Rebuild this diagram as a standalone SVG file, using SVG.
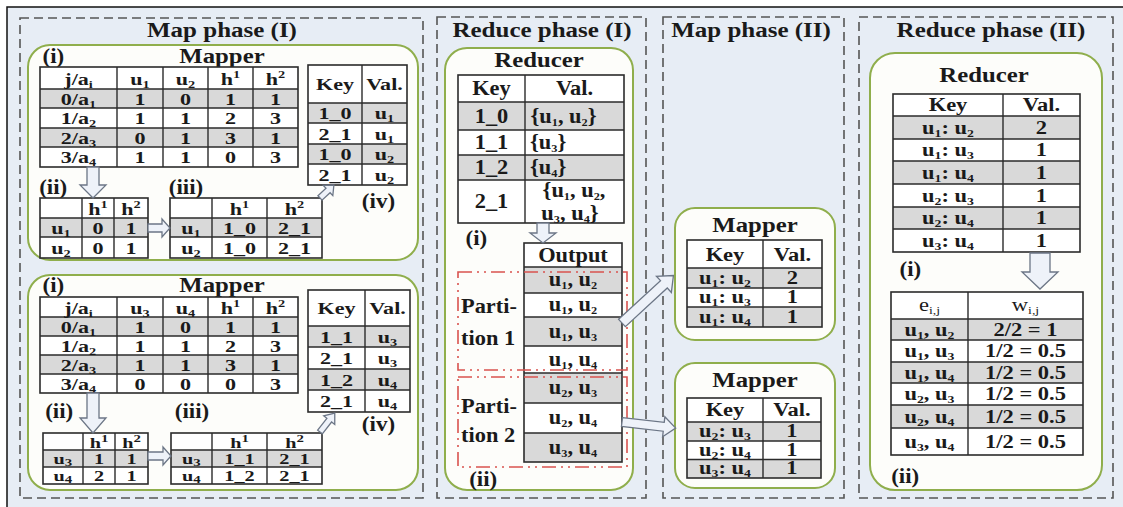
<svg xmlns="http://www.w3.org/2000/svg" width="1123" height="507" viewBox="0 0 1123 507">
<style>
text { font-family: "Liberation Serif", "Times New Roman", serif; font-weight: bold; fill: #1a1a1a; transform-box: fill-box; transform-origin: center; }
.ti { font-size: 20px; text-anchor: middle; transform: scaleX(1.25); }
.hd { font-size: 21px; text-anchor: middle; transform: scaleX(1.18); }
.c { font-size: 17px; text-anchor: middle; transform: scaleX(1.3); }
.c2 { font-size: 15px; text-anchor: middle; transform: scaleX(1.35); }
.cm { font-size: 18px; text-anchor: middle; transform: scaleX(1.25); }
.cb { font-size: 20px; text-anchor: middle; transform: scaleX(1.12); }
.l { font-size: 20px; text-anchor: start; transform: scaleX(1.15); }
.lb { font-size: 20px; text-anchor: start; transform: scaleX(1.12); }
.s { font-size: 11px; }
.n { font-weight: normal; }
.phase { fill: none; stroke: #555; stroke-width: 1.6; stroke-dasharray: 9 5; }
.node { fill: #fdfdfa; stroke: #8fae4c; stroke-width: 2; }
.tbf { fill: #fff; }
.tbo { fill: none; stroke: #2b2b2b; stroke-width: 1.6; }
.g { fill: #d9d9d9; }
.ln { fill: none; stroke: #2b2b2b; stroke-width: 1.4; }
.arr { fill: #eef2f9; stroke: #6c7686; stroke-width: 1.3; }
.part { fill: none; stroke: #d9534f; stroke-width: 1.6; stroke-dasharray: 14 5 2 5 2 5; }
</style>
<rect x="0" y="0" width="1123" height="507" fill="#fff"/>
<rect x="7" y="7" width="1116" height="500" fill="#e7edf5"/>
<path d="M7,507 V7 H1123" fill="none" stroke="#111" stroke-width="1.5"/>

<!-- phases -->
<g id="phase-map1">
<rect class="phase" x="20" y="18" width="403" height="480"/>
<text class="ti" x="222" y="37">Map phase (I)</text>
</g>
<g id="phase-reduce1">
<rect class="phase" x="437" y="17" width="209" height="481"/>
<text class="ti" x="542" y="37">Reduce phase (I)</text>
</g>
<g id="phase-map2">
<rect class="phase" x="663" y="17" width="181" height="481"/>
<text class="ti" x="751" y="37">Map phase (II)</text>
</g>
<g id="phase-reduce2">
<rect class="phase" x="859" y="17" width="254" height="481"/>
<text class="ti" x="991" y="37">Reduce phase (II)</text>
</g>

<!-- Map phase I, top mapper -->
<g id="mapper-1a">
<rect class="node" x="28" y="45" width="390" height="215" rx="22"/>
<text class="l" x="44" y="63">(i)</text>
<text class="hd" x="222" y="63">Mapper</text>
<rect class="tbf" x="40" y="67" width="258" height="100"/>
<rect class="g" x="40" y="89" width="258" height="19"/>
<rect class="g" x="40" y="128" width="258" height="19"/>
<path class="ln" d="M40,89 H298 M40,108 H298 M40,128 H298 M40,147 H298 M117,67 V167 M163,67 V167 M208,67 V167 M253,67 V167"/>
<rect class="tbo" x="40" y="67" width="258" height="100"/>
<text class="c" x="78.5" y="85">j/a<tspan class="s" dy="3">i</tspan></text>
<text class="c" x="140" y="85">u<tspan class="s" dy="3">1</tspan></text>
<text class="c" x="185.5" y="85">u<tspan class="s" dy="3">2</tspan></text>
<text class="c" x="230.5" y="85">h<tspan class="s" dy="-7">1</tspan></text>
<text class="c" x="275.5" y="85">h<tspan class="s" dy="-7">2</tspan></text>
<text class="c" x="78.5" y="105">0/a<tspan class="s" dy="3">1</tspan></text>
<text class="c" x="140" y="105">1</text><text class="c" x="185.5" y="105">0</text><text class="c" x="230.5" y="105">1</text><text class="c" x="275.5" y="105">1</text>
<text class="c" x="78.5" y="124.5">1/a<tspan class="s" dy="3">2</tspan></text>
<text class="c" x="140" y="124.5">1</text><text class="c" x="185.5" y="124.5">1</text><text class="c" x="230.5" y="124.5">2</text><text class="c" x="275.5" y="124.5">3</text>
<text class="c" x="78.5" y="144">2/a<tspan class="s" dy="3">3</tspan></text>
<text class="c" x="140" y="144">0</text><text class="c" x="185.5" y="144">1</text><text class="c" x="230.5" y="144">3</text><text class="c" x="275.5" y="144">1</text>
<text class="c" x="78.5" y="163.5">3/a<tspan class="s" dy="3">4</tspan></text>
<text class="c" x="140" y="163.5">1</text><text class="c" x="185.5" y="163.5">1</text><text class="c" x="230.5" y="163.5">0</text><text class="c" x="275.5" y="163.5">3</text>

<rect class="tbf" x="308" y="65" width="99" height="120"/>
<rect class="g" x="308" y="103" width="99" height="20"/>
<rect class="g" x="308" y="144" width="99" height="20"/>
<path class="ln" d="M308,103 H407 M308,123 H407 M308,144 H407 M308,164 H407 M362,65 V185"/>
<rect class="tbo" x="308" y="65" width="99" height="120"/>
<text class="c" x="335" y="90">Key</text><text class="c" x="384.5" y="90">Val.</text>
<text class="c" x="335" y="119.5">1_0</text><text class="c" x="384.5" y="119.5">u<tspan class="s" dy="3">1</tspan></text>
<text class="c" x="335" y="140">2_1</text><text class="c" x="384.5" y="140">u<tspan class="s" dy="3">1</tspan></text>
<text class="c" x="335" y="160.5">1_0</text><text class="c" x="384.5" y="160.5">u<tspan class="s" dy="3">2</tspan></text>
<text class="c" x="335" y="181">2_1</text><text class="c" x="384.5" y="181">u<tspan class="s" dy="3">2</tspan></text>

<text class="l" x="41" y="194">(ii)</text>
<rect class="tbf" x="40" y="198" width="108" height="60"/>
<rect class="g" x="40" y="218" width="108" height="19"/>
<path class="ln" d="M40,218 H148 M40,237 H148 M82,198 V258 M114,198 V258"/>
<rect class="tbo" x="40" y="198" width="108" height="60"/>
<text class="c" x="98" y="215">h<tspan class="s" dy="-7">1</tspan></text>
<text class="c" x="131" y="215">h<tspan class="s" dy="-7">2</tspan></text>
<text class="c" x="61" y="234">u<tspan class="s" dy="3">1</tspan></text><text class="c" x="98" y="234">0</text><text class="c" x="131" y="234">1</text>
<text class="c" x="61" y="254">u<tspan class="s" dy="3">2</tspan></text><text class="c" x="98" y="254">0</text><text class="c" x="131" y="254">1</text>

<text class="l" x="171" y="194">(iii)</text>
<rect class="tbf" x="170" y="198" width="152" height="60"/>
<rect class="g" x="170" y="218" width="152" height="19"/>
<path class="ln" d="M170,218 H322 M170,237 H322 M212,198 V258 M267,198 V258"/>
<rect class="tbo" x="170" y="198" width="152" height="60"/>
<text class="c" x="239.5" y="215">h<tspan class="s" dy="-7">1</tspan></text>
<text class="c" x="294.5" y="215">h<tspan class="s" dy="-7">2</tspan></text>
<text class="c" x="191" y="234">u<tspan class="s" dy="3">1</tspan></text><text class="c" x="239.5" y="234">1_0</text><text class="c" x="294.5" y="234">2_1</text>
<text class="c" x="191" y="254">u<tspan class="s" dy="3">2</tspan></text><text class="c" x="239.5" y="254">1_0</text><text class="c" x="294.5" y="254">2_1</text>
<text class="l" x="364" y="208">(iv)</text>
</g>

<!-- Map phase I, bottom mapper -->
<g id="mapper-1b">
<rect class="node" x="28" y="275" width="390" height="215" rx="22"/>
<text class="l" x="44" y="292">(i)</text>
<text class="hd" x="222" y="292">Mapper</text>
<rect class="tbf" x="40" y="297" width="258" height="96"/>
<rect class="g" x="40" y="317" width="258" height="19"/>
<rect class="g" x="40" y="355" width="258" height="19"/>
<path class="ln" d="M40,317 H298 M40,336 H298 M40,355 H298 M40,374 H298 M117,297 V393 M163,297 V393 M208,297 V393 M253,297 V393"/>
<rect class="tbo" x="40" y="297" width="258" height="96"/>
<text class="c" x="78.5" y="314">j/a<tspan class="s" dy="3">i</tspan></text>
<text class="c" x="140" y="314">u<tspan class="s" dy="3">3</tspan></text>
<text class="c" x="185.5" y="314">u<tspan class="s" dy="3">4</tspan></text>
<text class="c" x="230.5" y="314">h<tspan class="s" dy="-7">1</tspan></text>
<text class="c" x="275.5" y="314">h<tspan class="s" dy="-7">2</tspan></text>
<text class="c" x="78.5" y="333">0/a<tspan class="s" dy="3">1</tspan></text>
<text class="c" x="140" y="333">1</text><text class="c" x="185.5" y="333">0</text><text class="c" x="230.5" y="333">1</text><text class="c" x="275.5" y="333">1</text>
<text class="c" x="78.5" y="352">1/a<tspan class="s" dy="3">2</tspan></text>
<text class="c" x="140" y="352">1</text><text class="c" x="185.5" y="352">1</text><text class="c" x="230.5" y="352">2</text><text class="c" x="275.5" y="352">3</text>
<text class="c" x="78.5" y="371">2/a<tspan class="s" dy="3">3</tspan></text>
<text class="c" x="140" y="371">1</text><text class="c" x="185.5" y="371">1</text><text class="c" x="230.5" y="371">3</text><text class="c" x="275.5" y="371">1</text>
<text class="c" x="78.5" y="390">3/a<tspan class="s" dy="3">4</tspan></text>
<text class="c" x="140" y="390">0</text><text class="c" x="185.5" y="390">0</text><text class="c" x="230.5" y="390">0</text><text class="c" x="275.5" y="390">3</text>

<rect class="tbf" x="308" y="290" width="102" height="122"/>
<rect class="g" x="308" y="326" width="102" height="21"/>
<rect class="g" x="308" y="369" width="102" height="21"/>
<path class="ln" d="M308,326 H410 M308,347 H410 M308,369 H410 M308,390 H410 M365,290 V412"/>
<rect class="tbo" x="308" y="290" width="102" height="122"/>
<text class="c" x="336.5" y="314">Key</text><text class="c" x="387.5" y="314">Val.</text>
<text class="c" x="336.5" y="343">1_1</text><text class="c" x="387.5" y="343">u<tspan class="s" dy="3">3</tspan></text>
<text class="c" x="336.5" y="364.5">2_1</text><text class="c" x="387.5" y="364.5">u<tspan class="s" dy="3">3</tspan></text>
<text class="c" x="336.5" y="386">1_2</text><text class="c" x="387.5" y="386">u<tspan class="s" dy="3">4</tspan></text>
<text class="c" x="336.5" y="407">2_1</text><text class="c" x="387.5" y="407">u<tspan class="s" dy="3">4</tspan></text>

<text class="l" x="47" y="418">(ii)</text>
<rect class="tbf" x="43" y="433" width="105" height="51"/>
<rect class="g" x="43" y="450" width="105" height="17"/>
<path class="ln" d="M43,450 H148 M43,467 H148 M83,433 V484 M115,433 V484"/>
<rect class="tbo" x="43" y="433" width="105" height="51"/>
<text class="c2" x="99" y="448">h<tspan class="s" dy="-6">1</tspan></text>
<text class="c2" x="131.5" y="448">h<tspan class="s" dy="-6">2</tspan></text>
<text class="c2" x="63" y="464.5">u<tspan class="s" dy="2">3</tspan></text><text class="c2" x="99" y="464.5">1</text><text class="c2" x="131.5" y="464.5">1</text>
<text class="c2" x="63" y="481.5">u<tspan class="s" dy="2">4</tspan></text><text class="c2" x="99" y="481.5">2</text><text class="c2" x="131.5" y="481.5">1</text>

<text class="l" x="177" y="418">(iii)</text>
<rect class="tbf" x="171" y="433" width="151" height="51"/>
<rect class="g" x="171" y="450" width="151" height="17"/>
<path class="ln" d="M171,450 H322 M171,467 H322 M212,433 V484 M267,433 V484"/>
<rect class="tbo" x="171" y="433" width="151" height="51"/>
<text class="c2" x="239.5" y="448">h<tspan class="s" dy="-6">1</tspan></text>
<text class="c2" x="294.5" y="448">h<tspan class="s" dy="-6">2</tspan></text>
<text class="c2" x="191.5" y="464.5">u<tspan class="s" dy="2">3</tspan></text><text class="c2" x="239.5" y="464.5">1_1</text><text class="c2" x="294.5" y="464.5">2_1</text>
<text class="c2" x="191.5" y="481.5">u<tspan class="s" dy="2">4</tspan></text><text class="c2" x="239.5" y="481.5">1_2</text><text class="c2" x="294.5" y="481.5">2_1</text>
<text class="l" x="364" y="431">(iv)</text>
</g>

<!-- Reduce phase I -->
<g id="reducer-1">
<rect class="node" x="445" y="48" width="188" height="442" rx="22"/>
<text class="hd" x="539" y="67">Reducer</text>
<rect class="tbf" x="458" y="75" width="166" height="148"/>
<rect class="g" x="458" y="102" width="166" height="28"/>
<rect class="g" x="458" y="155" width="166" height="25"/>
<path class="ln" d="M458,102 H624 M458,130 H624 M458,155 H624 M458,180 H624 M525,75 V223"/>
<rect class="tbo" x="458" y="75" width="166" height="148"/>
<text class="cb" x="491.5" y="95.5">Key</text><text class="cb" x="574.5" y="95.5">Val.</text>
<text class="cb" x="491.5" y="123">1_0</text><text class="lb" x="534" y="123">{u<tspan class="s" dy="3">1</tspan><tspan dy="-3">, u</tspan><tspan class="s" dy="3">2</tspan><tspan dy="-3">}</tspan></text>
<text class="cb" x="491.5" y="149.5">1_1</text><text class="lb" x="532" y="149.5">{u<tspan class="s" dy="3">3</tspan><tspan dy="-3">}</tspan></text>
<text class="cb" x="491.5" y="174.5">1_2</text><text class="lb" x="532" y="174.5">{u<tspan class="s" dy="3">4</tspan><tspan dy="-3">}</tspan></text>
<text class="cb" x="491.5" y="208.5">2_1</text>
<text class="cb" x="574" y="197">{u<tspan class="s" dy="3">1</tspan><tspan dy="-3">, u</tspan><tspan class="s" dy="3">2</tspan><tspan dy="-3">,</tspan></text>
<text class="cb" x="570" y="220.5">u<tspan class="s" dy="3">3</tspan><tspan dy="-3">, u</tspan><tspan class="s" dy="3">4</tspan><tspan dy="-3">}</tspan></text>
<text class="l" x="467" y="245">(i)</text>

<rect class="tbf" x="524" y="243" width="98" height="219"/>
<rect class="g" x="524" y="267" width="98" height="26"/>
<rect class="g" x="524" y="317" width="98" height="29"/>
<rect class="g" x="524" y="373" width="98" height="30"/>
<rect class="g" x="524" y="433" width="98" height="29"/>
<path class="ln" d="M524,267 H622 M524,293 H622 M524,317 H622 M524,346 H622 M524,373 H622 M524,403 H622 M524,433 H622"/>
<rect class="tbo" x="524" y="243" width="98" height="219"/>
<text class="cb" x="573" y="262">Output</text>
<text class="cb" x="573" y="286.5">u<tspan class="s" dy="3">1</tspan><tspan dy="-3">, u</tspan><tspan class="s" dy="3">2</tspan></text>
<text class="cb" x="573" y="311.5">u<tspan class="s" dy="3">1</tspan><tspan dy="-3">, u</tspan><tspan class="s" dy="3">2</tspan></text>
<text class="cb" x="573" y="338">u<tspan class="s" dy="3">1</tspan><tspan dy="-3">, u</tspan><tspan class="s" dy="3">3</tspan></text>
<text class="cb" x="573" y="366">u<tspan class="s" dy="3">1</tspan><tspan dy="-3">, u</tspan><tspan class="s" dy="3">4</tspan></text>
<text class="cb" x="573" y="394.5">u<tspan class="s" dy="3">2</tspan><tspan dy="-3">, u</tspan><tspan class="s" dy="3">3</tspan></text>
<text class="cb" x="573" y="424.5">u<tspan class="s" dy="3">2</tspan><tspan dy="-3">, u</tspan><tspan class="s" dy="3">4</tspan></text>
<text class="cb" x="573" y="454">u<tspan class="s" dy="3">3</tspan><tspan dy="-3">, u</tspan><tspan class="s" dy="3">4</tspan></text>
<rect class="part" x="458" y="272" width="169" height="98"/>
<rect class="part" x="458" y="377" width="169" height="90"/>
<text class="lb" x="464" y="313">Parti-</text>
<text class="lb" x="464" y="345">tion 1</text>
<text class="lb" x="464" y="413">Parti-</text>
<text class="lb" x="464" y="442">tion 2</text>
<text class="l" x="471" y="486">(ii)</text>
</g>

<!-- Map phase II -->
<g id="mapper-2a">
<rect class="node" x="675" y="208" width="160" height="132" rx="20"/>
<text class="hd" x="755" y="232">Mapper</text>
<rect class="tbf" x="687" y="240" width="135" height="87"/>
<rect class="g" x="687" y="268" width="135" height="20"/>
<rect class="g" x="687" y="307" width="135" height="20"/>
<path class="ln" d="M687,268 H822 M687,288 H822 M687,307 H822 M763,240 V327"/>
<rect class="tbo" x="687" y="240" width="135" height="87"/>
<text class="cm" x="725" y="261">Key</text><text class="cm" x="792.5" y="261">Val.</text>
<text class="cm" x="725" y="284">u<tspan class="s" dy="3">1</tspan><tspan dy="-3">: u</tspan><tspan class="s" dy="3">2</tspan></text><text class="cm" x="792.5" y="284">2</text>
<text class="cm" x="725" y="303.5">u<tspan class="s" dy="3">1</tspan><tspan dy="-3">: u</tspan><tspan class="s" dy="3">3</tspan></text><text class="cm" x="792.5" y="303.5">1</text>
<text class="cm" x="725" y="323">u<tspan class="s" dy="3">1</tspan><tspan dy="-3">: u</tspan><tspan class="s" dy="3">4</tspan></text><text class="cm" x="792.5" y="323">1</text>
</g>
<g id="mapper-2b">
<rect class="node" x="675" y="363" width="160" height="125" rx="20"/>
<text class="hd" x="755" y="387">Mapper</text>
<rect class="tbf" x="687" y="398" width="134" height="80"/>
<rect class="g" x="687" y="422" width="134" height="19"/>
<rect class="g" x="687" y="459.5" width="134" height="18.5"/>
<path class="ln" d="M687,422 H821 M687,441 H821 M687,459.5 H821 M763,398 V478"/>
<rect class="tbo" x="687" y="398" width="134" height="80"/>
<text class="cm" x="725" y="416.5">Key</text><text class="cm" x="792" y="416.5">Val.</text>
<text class="cm" x="725" y="437.5">u<tspan class="s" dy="3">2</tspan><tspan dy="-3">: u</tspan><tspan class="s" dy="3">3</tspan></text><text class="cm" x="792" y="437.5">1</text>
<text class="cm" x="725" y="456">u<tspan class="s" dy="3">2</tspan><tspan dy="-3">: u</tspan><tspan class="s" dy="3">4</tspan></text><text class="cm" x="792" y="456">1</text>
<text class="cm" x="725" y="474.5">u<tspan class="s" dy="3">3</tspan><tspan dy="-3">: u</tspan><tspan class="s" dy="3">4</tspan></text><text class="cm" x="792" y="474.5">1</text>
</g>

<!-- Reduce phase II -->
<g id="reducer-2">
<rect class="node" x="870" y="53" width="232" height="437" rx="25"/>
<text class="hd" x="984" y="82">Reducer</text>
<rect class="tbf" x="893" y="94" width="187" height="158"/>
<rect class="g" x="893" y="116" width="187" height="23"/>
<rect class="g" x="893" y="161" width="187" height="23"/>
<rect class="g" x="893" y="207" width="187" height="22"/>
<path class="ln" d="M893,116 H1080 M893,139 H1080 M893,161 H1080 M893,184 H1080 M893,207 H1080 M893,229 H1080 M1003,94 V252"/>
<rect class="tbo" x="893" y="94" width="187" height="158"/>
<text class="cm" x="948" y="111.5">Key</text><text class="cm" x="1041.5" y="111.5">Val.</text>
<text class="cm" x="948" y="134">u<tspan class="s" dy="3">1</tspan><tspan dy="-3">: u</tspan><tspan class="s" dy="3">2</tspan></text><text class="cm" x="1041.5" y="134">2</text>
<text class="cm" x="948" y="156.5">u<tspan class="s" dy="3">1</tspan><tspan dy="-3">: u</tspan><tspan class="s" dy="3">3</tspan></text><text class="cm" x="1041.5" y="156.5">1</text>
<text class="cm" x="948" y="179">u<tspan class="s" dy="3">1</tspan><tspan dy="-3">: u</tspan><tspan class="s" dy="3">4</tspan></text><text class="cm" x="1041.5" y="179">1</text>
<text class="cm" x="948" y="202">u<tspan class="s" dy="3">2</tspan><tspan dy="-3">: u</tspan><tspan class="s" dy="3">3</tspan></text><text class="cm" x="1041.5" y="202">1</text>
<text class="cm" x="948" y="224.5">u<tspan class="s" dy="3">2</tspan><tspan dy="-3">: u</tspan><tspan class="s" dy="3">4</tspan></text><text class="cm" x="1041.5" y="224.5">1</text>
<text class="cm" x="948" y="247">u<tspan class="s" dy="3">3</tspan><tspan dy="-3">: u</tspan><tspan class="s" dy="3">4</tspan></text><text class="cm" x="1041.5" y="247">1</text>
<text class="l" x="901" y="276">(i)</text>

<rect class="tbf" x="891" y="292" width="192" height="163"/>
<rect class="g" x="891" y="319" width="192" height="21"/>
<rect class="g" x="891" y="362" width="192" height="21"/>
<rect class="g" x="891" y="405" width="192" height="23"/>
<path class="ln" d="M891,319 H1083 M891,340 H1083 M891,362 H1083 M891,383 H1083 M891,405 H1083 M891,428 H1083 M968,292 V455"/>
<rect class="tbo" x="891" y="292" width="192" height="163"/>
<text class="cm n" x="929.5" y="311">e<tspan class="s" dy="3">i,j</tspan></text>
<text class="cm n" x="1025.5" y="311">w<tspan class="s" dy="3">i,j</tspan></text>
<text class="cm" x="929.5" y="336">u<tspan class="s" dy="3">1</tspan><tspan dy="-3">, u</tspan><tspan class="s" dy="3">2</tspan></text><text class="cm" x="1025.5" y="336">2/2 = 1</text>
<text class="cm" x="929.5" y="357.5">u<tspan class="s" dy="3">1</tspan><tspan dy="-3">, u</tspan><tspan class="s" dy="3">3</tspan></text><text class="cm" x="1025.5" y="357.5">1/2 = 0.5</text>
<text class="cm" x="929.5" y="379">u<tspan class="s" dy="3">1</tspan><tspan dy="-3">, u</tspan><tspan class="s" dy="3">4</tspan></text><text class="cm" x="1025.5" y="379">1/2 = 0.5</text>
<text class="cm" x="929.5" y="400.5">u<tspan class="s" dy="3">2</tspan><tspan dy="-3">, u</tspan><tspan class="s" dy="3">3</tspan></text><text class="cm" x="1025.5" y="400.5">1/2 = 0.5</text>
<text class="cm" x="929.5" y="423">u<tspan class="s" dy="3">2</tspan><tspan dy="-3">, u</tspan><tspan class="s" dy="3">4</tspan></text><text class="cm" x="1025.5" y="423">1/2 = 0.5</text>
<text class="cm" x="929.5" y="448">u<tspan class="s" dy="3">3</tspan><tspan dy="-3">, u</tspan><tspan class="s" dy="3">4</tspan></text><text class="cm" x="1025.5" y="448">1/2 = 0.5</text>
<text class="l" x="893" y="483">(ii)</text>
</g>

<!-- connectors -->
<g id="connectors">
<path class="arr" d="M87,167 H99 V185 H106 L93,198 L80,185 H87 Z"/>
<path class="arr" d="M148,224 H162 V219 L170,228 L162,237 V232 H148 Z"/>
<path class="arr" transform="translate(320,198) rotate(-43)" d="M0,-3 H11 V-7 L19,0 L11,7 V3 H0 Z"/>
<path class="arr" d="M87,393 H99 V418 H106 L93,433 L80,418 H87 Z"/>
<path class="arr" d="M148,452 H163 V447 L171,456 L163,465 V460 H148 Z"/>
<path class="arr" transform="translate(320,432) rotate(-52)" d="M0,-3 H15 V-7 L24,0 L15,7 V3 H0 Z"/>
<path class="arr" d="M537,223 H549 V233 H556 L543,243 L530,233 H537 Z"/>
<path class="arr" transform="translate(622,323) rotate(-42.7)" d="M0,-5 H57 V-11 L70,0 L57,11 V5 H0 Z"/>
<path class="arr" transform="translate(622,422) rotate(6.5)" d="M0,-4.5 H42 V-10 L54,0 L42,10 V4.5 H0 Z"/>
<path class="arr" d="M1030,253 H1050 V272 H1058 L1040,289 L1022,272 H1030 Z"/>
</g>
</svg>
